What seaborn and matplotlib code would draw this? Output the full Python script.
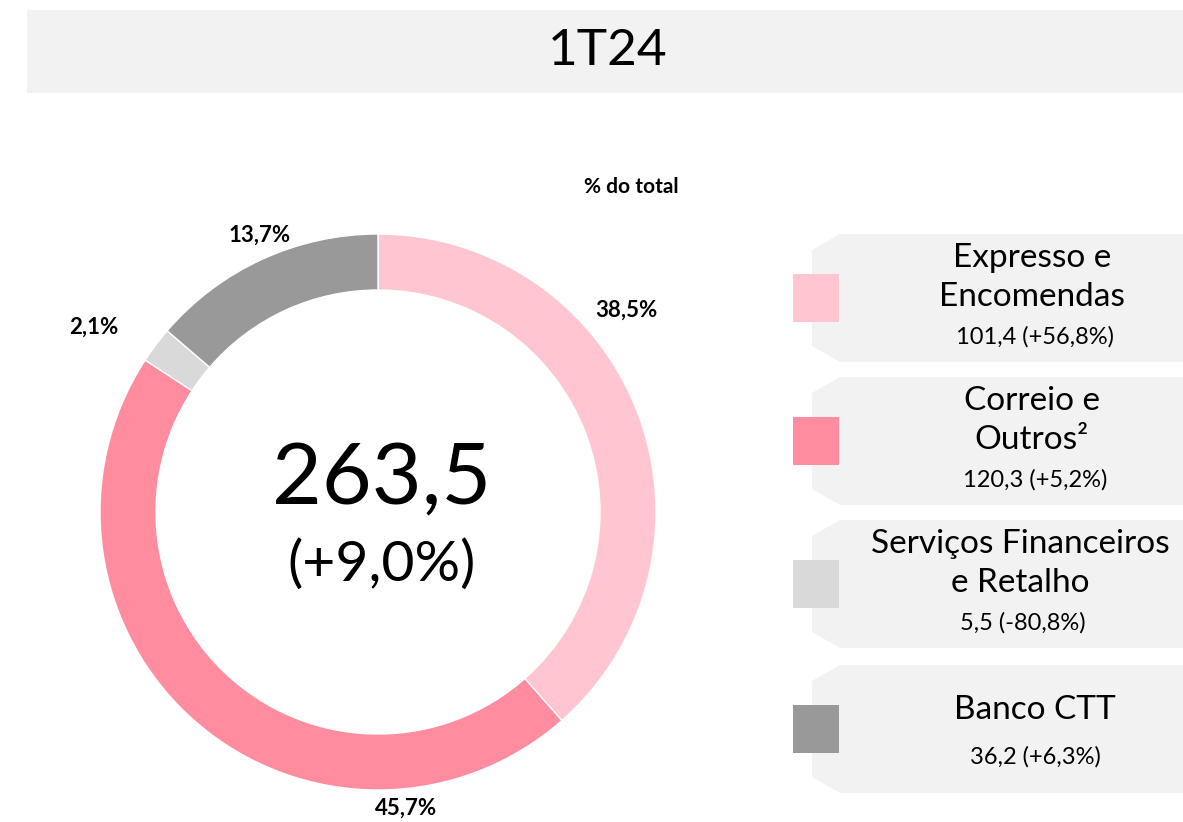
import matplotlib
matplotlib.use("Agg")
import matplotlib.pyplot as plt
from matplotlib.patches import Polygon, Rectangle
import seaborn as sns

sns.set_theme(style="white")
plt.rcParams['font.family'] = ['Lato', 'DejaVu Sans']
plt.rcParams['text.color'] = 'black'

# data
period = "1T24"
segments = [["Expresso e", "Encomendas"], ["Correio e", "Outros²"],
            ["Serviços Financeiros", "e Retalho"], ["Banco CTT"]]
shares = [38.5, 45.7, 2.1, 13.7]
values = ["101,4 (+56,8%)", "120,3 (+5,2%)", "5,5 (-80,8%)", "36,2 (+6,3%)"]
share_labels = ["38,5%", "45,7%", "2,1%", "13,7%"]
total = "263,5"
total_change = "(+9,0%)"
colors = sns.color_palette(["#FFC5D0", "#FF8C9F", "#D9D9D9", "#999999"])

W, H = 1183, 822
fig = plt.figure(figsize=(W / 100, H / 100), dpi=100)

# overlay axes in pixel coords (y down)
bg = fig.add_axes([0, 0, 1, 1])
bg.set_xlim(0, W)
bg.set_ylim(H, 0)
bg.axis("off")

# title bar
bg.add_patch(Rectangle((27, 10), W - 27, 83, color="#F2F2F2", lw=0))
bg.text(608, 51, period, ha="center", va="center", fontsize=37)

# donut
cx, cy, r = 378, 512, 278
pax = fig.add_axes([(cx - r) / W, (H - cy - r) / H, 2 * r / W, 2 * r / H])
pax.pie(shares, colors=colors, startangle=90, counterclock=False,
        wedgeprops=dict(width=56 / r, edgecolor="white", linewidth=1))
pax.set_xlim(-1, 1)
pax.set_ylim(-1, 1)
pax.axis("off")

bg.text(cx + 4, 480, total, ha="center", va="center", fontsize=62)
bg.text(cx + 4, 565, total_change, ha="center", va="center", fontsize=41)
bg.text(631, 187, "% do total", ha="center", va="center", fontsize=15, fontweight="bold")

label_pos = [(626, 310), (406, 808), (94, 327), (260, 235)]
for (x, y), s in zip(label_pos, share_labels):
    bg.text(x, y, s, ha="center", va="center", fontsize=16, fontweight="bold")

# legend boxes
tops = [234, 377, 520, 665]
for i, top in enumerate(tops):
    bot = top + 128
    bg.add_patch(Polygon([(840, top), (W, top), (W, bot), (840, bot),
                          (812, bot - 16), (812, top + 16)],
                         closed=True, color="#F2F2F2", lw=0))
    mid = (top + bot) / 2
    bg.add_patch(Rectangle((793, mid - 24), 46, 48, color=colors[i], lw=0))
    lines = segments[i]
    if len(lines) == 2:
        xc = 1032 if i < 2 else 1020
        bg.text(xc, top + 24, lines[0], ha="center", va="center", fontsize=24)
        bg.text(xc, top + 63, lines[1], ha="center", va="center", fontsize=24)
        bg.text(xc + 3, top + 103, values[i], ha="center", va="center", fontsize=17)
    else:
        bg.text(1035, top + 45, lines[0], ha="center", va="center", fontsize=24)
        bg.text(1035, top + 92, values[i], ha="center", va="center", fontsize=17)

fig.savefig("out.png", dpi=100)
